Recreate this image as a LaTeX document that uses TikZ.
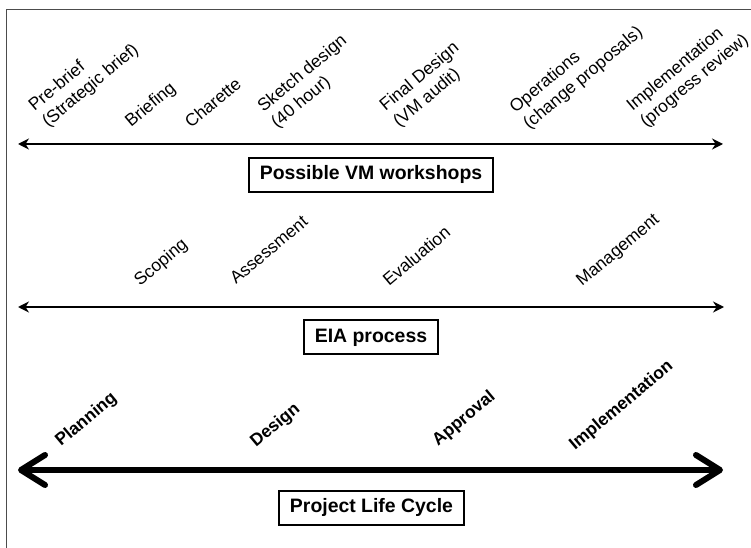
\documentclass[tikz,border=0pt]{standalone}
\usepackage{fontspec}
\setmainfont{Liberation Sans}
\usetikzlibrary{arrows.meta}
\begin{document}
\begin{tikzpicture}[x=1bp,y=-1bp,
  lbl/.style={rotate=40, anchor=base west, inner sep=0pt, align=left,
    font=\fontsize{17.5}{21}\selectfont},
  blbl/.style={lbl, font=\fontsize{17.5}{21}\selectfont\bfseries},
  box/.style={draw, line width=2bp, font=\fontsize{19.5}{23}\selectfont\bfseries,
    inner xsep=10.5bp, inner ysep=0pt, minimum height=34bp, text height=14bp, text depth=4bp},
  thinarrow/.style={line width=2.3bp, {Stealth[length=11bp,width=11bp]}-{Stealth[length=11bp,width=11bp]}},
  thickarrow/.style={line width=6bp,
    {Straight Barb[length=24bp,width=30bp,round]}-{Straight Barb[length=24bp,width=30bp,round]}},
  frame/.style={line width=1bp, draw=black!70}
]
\useasboundingbox (0,0) rectangle (751,548);
% frame
\coordinate (fbl) at (6.5,548);
\coordinate (ftl) at (6.5,10);
\coordinate (ftr) at (751,10);
\draw[frame] (fbl) -- (ftl) -- (ftr);

% Row 1: VM workshops
\node[lbl] (pb) at (48,128) {Pre-brief\\(Strategic brief)};
\node[lbl] (br) at (131,128) {Briefing};
\node[lbl] (ch) at (191,129) {Charette};
\node[lbl] (sd) at (277,129) {Sketch design\\(40 hour)};
\node[lbl] (fd) at (399,128) {Final Design\\(VM audit)};
\node[lbl] (op) at (529,130) {Operations\\(change proposals)};
\node[lbl] (im) at (646,128) {Implementation\\(progress review)};
\coordinate (a1l) at (18,144);
\coordinate (a1r) at (723,144);
\draw[thinarrow] (a1l) -- (a1r);
\node[box] (vm) at (371,175) {Possible VM workshops};

% Row 2: EIA
\node[lbl] (sc) at (140,287) {Scoping};
\node[lbl] (as) at (236,285) {Assessment};
\node[lbl] (ev) at (389,287) {Evaluation};
\node[lbl] (mg) at (582,287) {Management};
\coordinate (a2l) at (18,307);
\coordinate (a2r) at (724,307);
\draw[thinarrow] (a2l) -- (a2r);
\node[box] (eia) at (371,337) {EIA process};

% Row 3: Project life cycle
\node[blbl] (pl) at (61,447) {Planning};
\node[blbl] (de) at (256,448) {Design};
\node[blbl] (ap) at (438,447) {Approval};
\node[blbl] (ipl) at (575,451) {Implementation};
\coordinate (a3l) at (18,470);
\coordinate (a3r) at (723,470);
\draw[thickarrow] (a3l) -- (a3r);
\node[box] (plc) at (371.5,507.5) {Project Life Cycle};
\end{tikzpicture}
\end{document}
